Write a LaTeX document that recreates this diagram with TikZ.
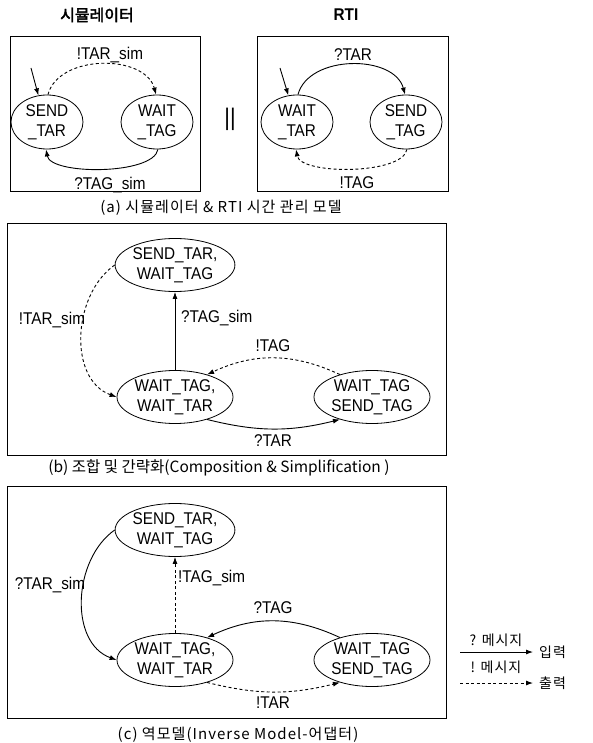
\documentclass[tikz,border=0pt]{standalone}
\usepackage{fontspec}
\setmainfont{Liberation Sans}[FakeStretch=0.9]
\newfontfamily\kr{Noto Sans CJK KR}
\newfontfamily\krs{Noto Sans CJK KR}[LetterSpace=7]
\newfontfamily\krb{Noto Sans CJK KR}[FakeBold=2.5]
\usetikzlibrary{arrows.meta,shapes.geometric}
\begin{document}
\begin{tikzpicture}[x=1pt,y=1pt,
  boxframe/.style={draw,line width=1pt},
  stnode/.style={ellipse,draw,line width=0.8pt,inner sep=0pt,align=center,
    font=\fontsize{17}{20}\selectfont},
  sstnode/.style={stnode,minimum width=72pt,minimum height=54pt},
  bstnode/.style={stnode,minimum width=116pt,minimum height=53pt},
  arrline/.style={line width=0.9pt,-{Latex[length=7pt,width=5pt]}},
  dshline/.style={arrline,dash pattern=on 3pt off 2.5pt},
  labtxt/.style={font=\fontsize{17}{18}\selectfont,inner sep=0pt},
  captxt/.style={font=\krs\fontsize{15}{16}\selectfont,inner sep=0pt},
  capwide/.style={font=\kr\fontsize{15.5}{16}\selectfont,inner sep=0pt},
  legtxt/.style={font=\krs\fontsize{14}{15}\selectfont,inner sep=0pt},
  ttltxt/.style={inner sep=0pt}]
\useasboundingbox (0,0) rectangle (593,-743);
% titles
\node[ttltxt,font=\krb\fontsize{16}{17}\selectfont] (t1) at (97,-15) {시뮬레이터};
\node[ttltxt,font=\bfseries\fontsize{17}{17}\selectfont] (t2) at (346,-15) {RTI};
% (a) box 1
\draw[boxframe] (10,-37) rectangle (200,-192);
\node[sstnode] (s1) at (47,-122) {SEND\\\_TAR};
\node[sstnode] (w1) at (157,-122) {WAIT\\\_TAG};
\coordinate (i1) at (31,-68);
\draw[arrline] (i1) -- (s1.108);
\draw[dshline] (s1.88) to[out=75,in=105] (w1.92);
\draw[arrline] (w1.-88) to[out=-100,in=-80,looseness=0.6] (s1.-92);
\node[labtxt] (l1) at (110,-55) {!TAR\_sim};
\node[labtxt] (l2) at (110,-185) {?TAG\_sim};
\node[ttltxt,font=\fontsize{24}{24}\selectfont] (par) at (230,-119) {||};
% (a) box 2
\draw[boxframe] (257,-37) rectangle (448,-192);
\node[sstnode] (wt2) at (297,-122) {WAIT\\\_TAR};
\node[sstnode] (sg2) at (406,-122) {SEND\\\_TAG};
\coordinate (i2) at (280,-68);
\draw[arrline] (i2) -- (wt2.108);
\draw[arrline] (wt2.88) to[out=75,in=105] (sg2.92);
\draw[dshline] (sg2.-88) to[out=-100,in=-80,looseness=0.6] (wt2.-92);
\node[labtxt] (l3) at (353,-55) {?TAR};
\node[labtxt] (l4) at (357,-183) {!TAG};
\node[captxt] (ca) at (221,-208) {(a) 시뮬레이터 \& RTI 시간 관리 모델};
% (b)
\draw[boxframe] (7,-223) rectangle (446,-455);
\node[bstnode] (b1) at (175,-265) {SEND\_TAR,\\WAIT\_TAG};
\node[bstnode] (b2) at (175,-397) {WAIT\_TAG,\\WAIT\_TAR};
\node[bstnode] (b3) at (372,-397) {WAIT\_TAG\\SEND\_TAG};
\draw[arrline] (b2.north) -- (b1.south);
\node[labtxt,anchor=west] (l5) at (181,-318) {?TAG\_sim};
\draw[dshline] (b1.west) to[out=215,in=160] (b2.west);
\node[labtxt] (l6) at (52,-320) {!TAR\_sim};
\draw[dshline] (b3.145) to[out=155,in=25] (b2.35);
\node[labtxt] (l7) at (273,-346) {!TAG};
\draw[arrline] (b2.-35) to[out=-14,in=-166] (b3.-145);
\node[labtxt] (l8) at (273,-441) {?TAR};
\node[capwide] (cb) at (219,-468) {(b) 조합 및 간략화(Composition \& Simplification )};
% (c)
\draw[boxframe] (7,-486) rectangle (446,-718);
\node[bstnode] (c1) at (175,-530) {SEND\_TAR,\\WAIT\_TAG};
\node[bstnode] (c2) at (175,-660) {WAIT\_TAG,\\WAIT\_TAR};
\node[bstnode] (c3) at (372,-660) {WAIT\_TAG\\SEND\_TAG};
\draw[dshline] (c2.north) -- (c1.south);
\node[labtxt,anchor=west] (l9) at (178,-578) {!TAG\_sim};
\draw[arrline] (c1.west) to[out=215,in=160] (c2.west);
\node[labtxt] (l10) at (50,-585) {?TAR\_sim};
\draw[arrline] (c3.145) to[out=155,in=25] (c2.35);
\node[labtxt] (l11) at (273,-608) {?TAG};
\draw[dshline] (c2.-35) to[out=-14,in=-166] (c3.-145);
\node[labtxt] (l12) at (273,-703) {!TAR};
\node[captxt] (cc) at (238,-735) {(c) 역모델(Inverse Model-어댑터)};
% legend
\node[legtxt] (g1) at (496,-640) {? 메시지};
\node[legtxt,anchor=west] (in) at (539,-652) {입력};
\coordinate (a1) at (460,-652);
\draw[arrline] (a1) -- ([xshift=-6pt]in.west);
\node[legtxt] (g2) at (496,-667) {! 메시지};
\node[legtxt,anchor=west] (out) at (539,-683) {출력};
\coordinate (a2) at (460,-683);
\draw[dshline] (a2) -- ([xshift=-6pt]out.west);
\end{tikzpicture}
\end{document}
